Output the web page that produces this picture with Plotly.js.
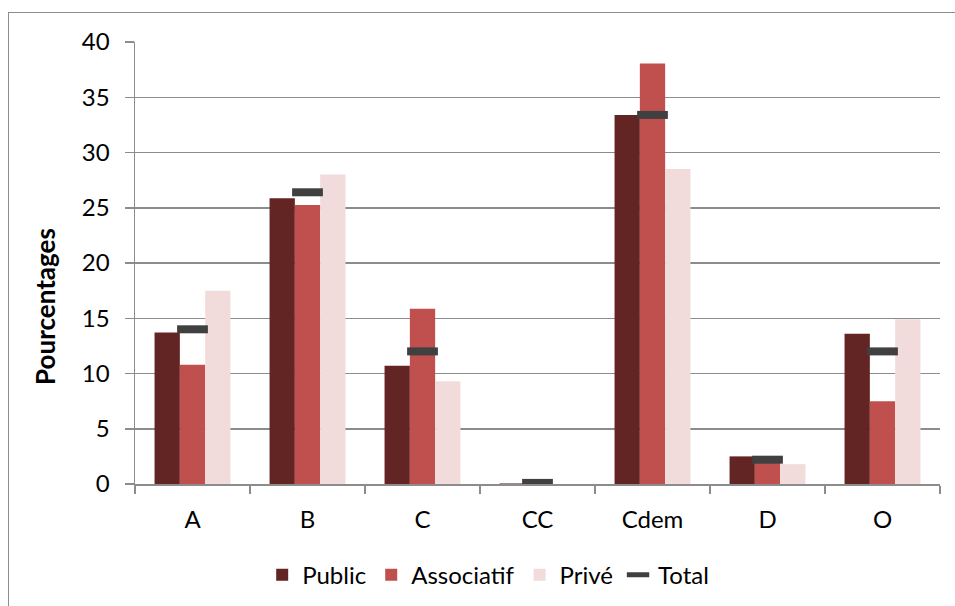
<!DOCTYPE html>
<html>
<head>
<meta charset="utf-8">
<script src="https://cdn.plot.ly/plotly-3.0.1.min.js"></script>
<style>
  html, body { margin: 0; padding: 0; background: #ffffff; overflow: hidden; }
  #frame {
    position: absolute; left: 8px; top: 12px; width: 1100px; height: 800px;
    border: 1.5px solid #8c8c8c; box-sizing: border-box;
  }
  #chart { position: absolute; left: 0; top: 0; width: 955px; height: 606px; }
</style>
</head>
<body>
<div id="frame"></div>
<div id="chart"></div>
<script>
// Répartition par catégorie (%)
const categories = ['A', 'B', 'C', 'CC', 'Cdem', 'D', 'O'];
const publicVals = [13.7, 25.85, 10.7, 0.05, 33.4, 2.5, 13.6];
const associatifVals = [10.8, 25.25, 15.85, 0, 38.05, 2.1, 7.5];
const priveVals = [17.5, 28.0, 9.3, 0, 28.5, 1.8, 14.9];
const totalVals = [14.0, 26.4, 12.0, 0.1, 33.4, 2.2, 12.0];
const yTicks = [0, 5, 10, 15, 20, 25, 30, 35, 40];
const yTitle = 'Pourcentages';

const FONT = 'Lato, "Open Sans", sans-serif';
const GRID = '#8c8c8c';

const traces = [
  { type: 'bar', name: 'Public', x: categories, y: publicVals,
    marker: { color: '#632523' } },
  { type: 'bar', name: 'Associatif', x: categories, y: associatifVals,
    marker: { color: '#C0504D' } },
  { type: 'bar', name: 'Privé', x: categories, y: priveVals,
    marker: { color: '#F2DCDB' } },
  { type: 'scatter', mode: 'markers', name: 'Total', x: categories, y: totalVals,
    marker: { symbol: 'line-ew', size: 22, color: '#404040',
              line: { color: '#404040', width: 8 } } }
];

const layout = {
  width: 955, height: 606,
  margin: { l: 135, r: 15, t: 42, b: 122 },
  paper_bgcolor: 'rgba(0,0,0,0)',
  plot_bgcolor: 'rgba(0,0,0,0)',
  font: { family: FONT, size: 24, color: '#000000' },
  barmode: 'group',
  bargap: 0.34,
  bargroupgap: 0,
  showlegend: true,
  legend: {
    orientation: 'h',
    xref: 'paper', x: 0.158, xanchor: 'left',
    yref: 'container', y: 0.051, yanchor: 'middle',
    font: { family: FONT, size: 24, color: '#000000' },
    traceorder: 'normal'
  },
  xaxis: {
    type: 'category',
    showline: true, linecolor: GRID, linewidth: 1.5,
    ticks: 'outside', ticklen: 8, tickcolor: GRID, tickwidth: 1.5,
    tickson: 'boundaries',
    showgrid: false, zeroline: false,
    ticklabelstandoff: 14,
    tickfont: { family: FONT, size: 24 }
  },
  yaxis: {
    range: [0, 40], tickvals: yTicks,
    showline: true, linecolor: GRID, linewidth: 1.5,
    ticks: 'outside', ticklen: 9, tickcolor: GRID, tickwidth: 1.5,
    showgrid: true, gridcolor: GRID, gridwidth: 1.5,
    zeroline: false,
    ticklabelstandoff: 10,
    tickfont: { family: FONT, size: 24 }
  },
  annotations: [{
    text: '<b>' + yTitle + '</b>',
    xref: 'paper', yref: 'paper', x: -0.112, y: 0.4025,
    xanchor: 'center', yanchor: 'middle',
    textangle: -90, showarrow: false,
    font: { family: FONT, size: 26, color: '#000000' }
  }]
};

Plotly.newPlot('chart', traces, layout, { displayModeBar: false, staticPlot: true });
</script>
</body>
</html>
